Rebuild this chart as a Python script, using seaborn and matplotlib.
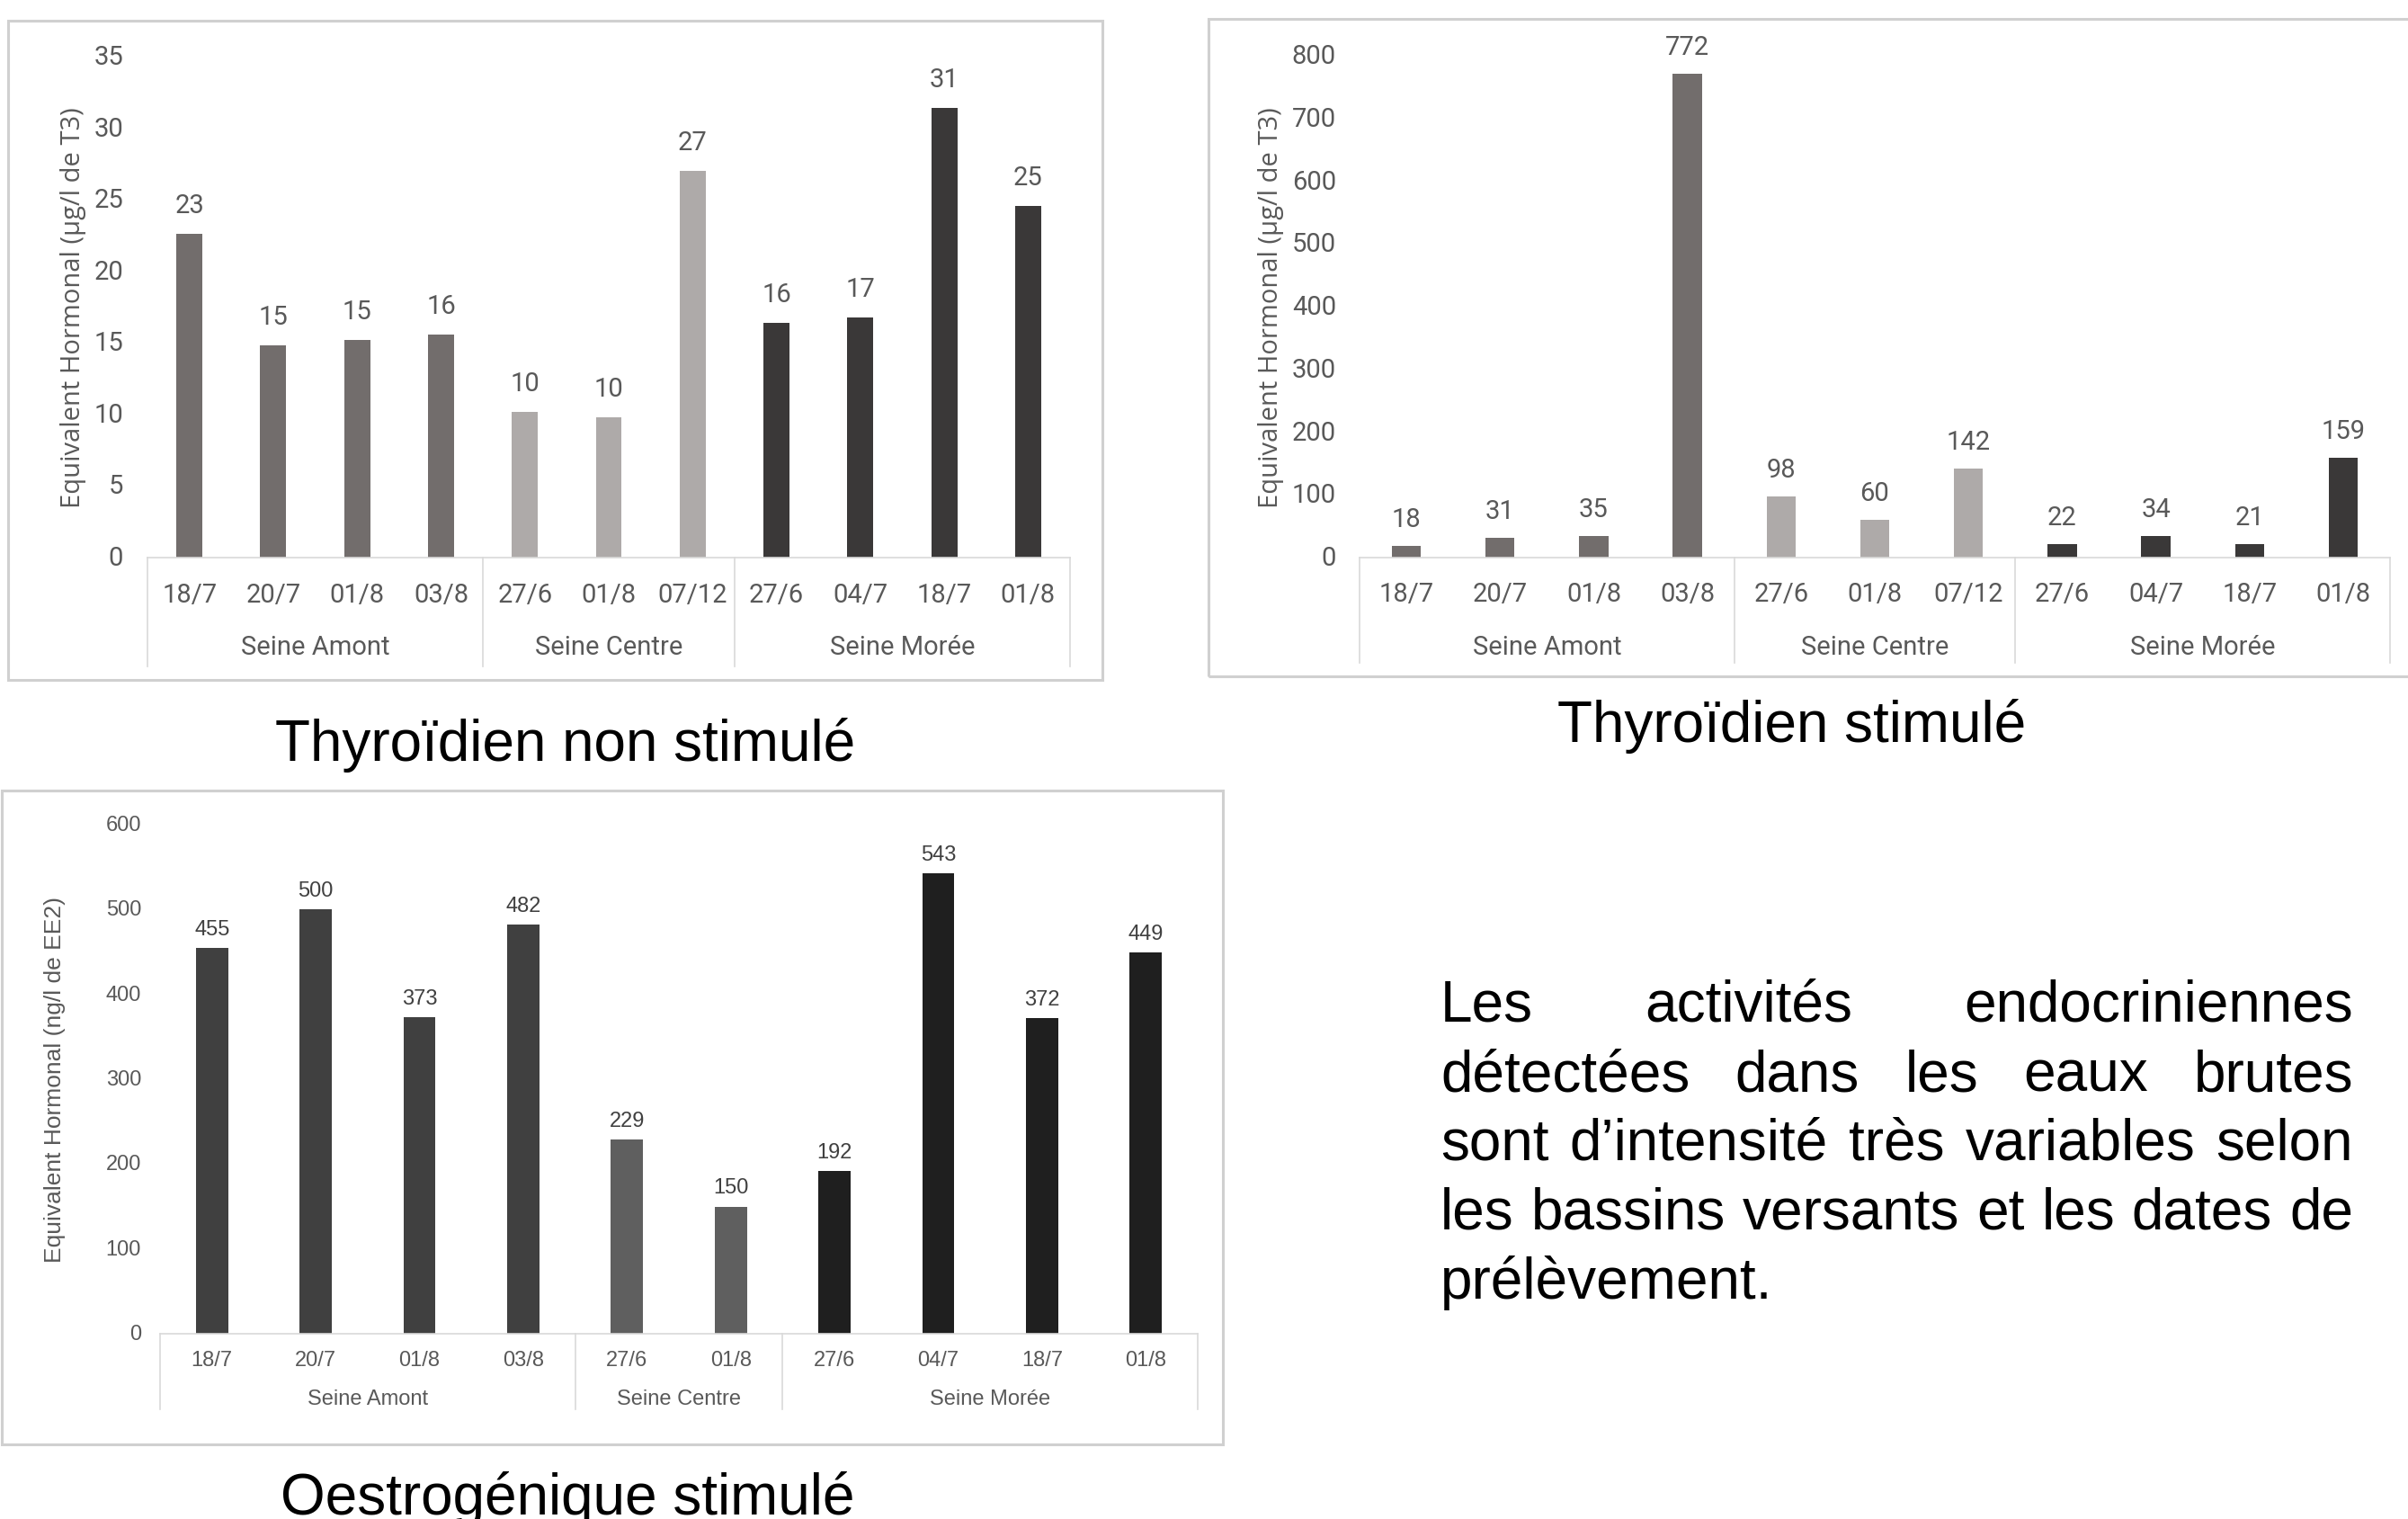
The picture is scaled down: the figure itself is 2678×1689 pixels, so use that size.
import numpy as np
import pandas as pd
import matplotlib
matplotlib.use("Agg")
import matplotlib.pyplot as plt
from matplotlib.patches import Rectangle
import seaborn as sns

W, H = 2678, 1690
DPI = 100

# ---------------- data ----------------
site_order = ["Seine Amont", "Seine Centre", "Seine Morée"]

thyro_sites = ["Seine Amont"] * 4 + ["Seine Centre"] * 3 + ["Seine Morée"] * 4
thyro_dates = ["18/7", "20/7", "01/8", "03/8", "27/6", "01/8", "07/12",
               "27/6", "04/7", "18/7", "01/8"]
thyro_non_stim = [22.6, 14.8, 15.2, 15.6, 10.2, 9.8, 27.0, 16.4, 16.8, 31.4, 24.6]
thyro_stim = [18, 31, 35, 772, 98, 60, 142, 22, 34, 21, 159]

oestro_sites = ["Seine Amont"] * 4 + ["Seine Centre"] * 2 + ["Seine Morée"] * 4
oestro_dates = ["18/7", "20/7", "01/8", "03/8", "27/6", "01/8",
                "27/6", "04/7", "18/7", "01/8"]
oestro_stim = [455, 500, 373, 482, 229, 150, 192, 543, 372, 449]

thyro_palette = ["#726d6c", "#aeaaa9", "#3a3838"]
oestro_palette = ["#404040", "#5f5f5f", "#1f1f1f"]

ylabel_t3 = "Equivalent Hormonal (µg/l de T3)"
ylabel_ee2 = "Equivalent Hormonal (ng/l de EE2)"

titles = ["Thyroïdien non stimulé", "Thyroïdien stimulé", "Oestrogénique stimulé"]

paragraph = [
    "Les activités endocriniennes",
    "détectées dans les eaux brutes",
    "sont d’intensité très variables selon",
    "les bassins versants et les dates de",
    "prélèvement.",
]

# ---------------- helpers ----------------
def fx(x):
    return x / W


def fy(y):
    return 1 - y / H


def pt(px):
    return px * 72 / DPI


GRID = "#d9d9d9"
TXT = "#595959"


def frame(fig, x0, y0, x1, y1):
    fig.add_artist(Rectangle((fx(x0), fy(y1)), (x1 - x0) / W, (y1 - y0) / H,
                             transform=fig.transFigure, fill=False,
                             ec="#d0d0d0", lw=2.2, zorder=0))


def chart(fig, box, dates, sites, values, palette, ymax, ystep, ylabel,
          font, fs, ylab_font, ylab_fs, date_y, group_y, sep_y,
          ytick_gap, ylabel_x, value_pad, value_color, group_bounds):
    left, top, right, bottom = box
    ax = fig.add_axes([fx(left), fy(bottom), (right - left) / W, (bottom - top) / H])
    ax.set_facecolor("none")
    n = len(dates)
    slots = [str(i) for i in range(n)]
    df = pd.DataFrame({"slot": slots, "value": values, "site": sites})
    sns.barplot(data=df, x="slot", y="value", hue="site", order=slots,
                hue_order=site_order, palette=palette, dodge=False, width=0.31,
                saturation=1, errorbar=None, legend=False, ax=ax)
    ax.set_xlim(-0.5, n - 0.5)
    ax.set_ylim(0, ymax)

    for s in ["top", "right", "left"]:
        ax.spines[s].set_visible(False)
    ax.spines["bottom"].set_color(GRID)
    ax.spines["bottom"].set_linewidth(1.2)

    # y axis
    ax.set_yticks(np.arange(0, ymax + 1e-9, ystep))
    ax.set_yticklabels([f"{v:g}" for v in np.arange(0, ymax + 1e-9, ystep)])
    ax.tick_params(axis="y", length=0, pad=pt(ytick_gap), colors=TXT)
    for lab in ax.get_yticklabels():
        lab.set_fontfamily(font)
        lab.set_fontsize(fs)
        lab.set_va("center")

    # x axis: dates
    h_px = bottom - top
    ax.set_xticks(range(n))
    ax.set_xticklabels(dates)
    ax.tick_params(axis="x", length=0, pad=pt(date_y - bottom), colors=TXT)
    for lab in ax.get_xticklabels():
        lab.set_fontfamily(font)
        lab.set_fontsize(fs)
        lab.set_va("center")
    ax.set_xlabel("")

    ax.set_ylabel(ylabel, fontfamily=ylab_font, fontsize=ylab_fs, color=TXT, va="center")
    ax.yaxis.set_label_coords((ylabel_x - left) / (right - left), 0.5)

    # group labels and separators below the category axis
    tr = ax.get_xaxis_transform()
    yf_sep = (bottom - sep_y) / h_px
    yf_grp = (bottom - group_y) / h_px
    for b in group_bounds:
        ax.plot([b, b], [0, yf_sep], transform=tr, color=GRID, lw=1.2, clip_on=False)
    for site, a, b in zip(site_order, group_bounds[:-1], group_bounds[1:]):
        ax.text((a + b) / 2, yf_grp, site, transform=tr, ha="center", va="center",
                fontfamily=font, fontsize=fs, color=TXT)

    # value labels
    for c in ax.containers:
        ax.bar_label(c, fmt="%.0f", padding=pt(value_pad), color=value_color,
                     fontfamily=font, fontsize=fs)
    return ax


fig = plt.figure(figsize=(W / DPI, H / DPI), dpi=DPI, facecolor="white")

# frames around each chart
frame(fig, 9, 24, 1226, 757)
frame(fig, 1344, 22, 2700, 753)
frame(fig, 2, 880, 1360, 1607)

TOP_FONT = ["Roboto", "DejaVu Sans"]
LAB_FONT = ["Open Sans", "DejaVu Sans"]
ARIAL = ["Liberation Sans", "DejaVu Sans"]

chart(fig, (164, 64, 1190, 621), thyro_dates, thyro_sites, thyro_non_stim,
      thyro_palette, 35, 5, ylabel_t3, TOP_FONT, 21, LAB_FONT, 21,
      662, 720, 742, 27, 82, 18, TXT, [-0.5, 3.5, 6.5, 10.5])

chart(fig, (1512, 63, 2658, 621), thyro_dates, thyro_sites, thyro_stim,
      thyro_palette, 800, 100, ylabel_t3, TOP_FONT, 21, LAB_FONT, 21,
      661, 720, 738, 26, 1413, 16, TXT, [-0.5, 3.5, 6.5, 10.5])

chart(fig, (178, 918, 1332, 1484), oestro_dates, oestro_sites, oestro_stim,
      oestro_palette, 600, 100, ylabel_ee2, ARIAL, 17, ARIAL, 19,
      1513, 1556, 1568, 21, 61, 10, "#404040", [-0.5, 3.5, 5.5, 9.5])

# chart captions
TITLE_FS = 46
fig.text(fx(629), fy(846), titles[0], ha="center", va="baseline",
         fontfamily=ARIAL, fontsize=TITLE_FS, color="black")
fig.text(fx(1993), fy(825), titles[1], ha="center", va="baseline",
         fontfamily=ARIAL, fontsize=TITLE_FS, color="black")
fig.text(fx(631), fy(1684), titles[2], ha="center", va="baseline",
         fontfamily=ARIAL, fontsize=TITLE_FS, color="black")

# justified paragraph
para_left, para_right = 1602, 2617
para_base, para_step = 1136, 77
renderer = fig.canvas.get_renderer()
for i, line in enumerate(paragraph):
    ypx = para_base + i * para_step
    if i == len(paragraph) - 1:
        fig.text(fx(para_left), fy(ypx), line, ha="left", va="baseline",
                 fontfamily=ARIAL, fontsize=TITLE_FS, color="black")
        continue
    words = line.split(" ")
    texts = [fig.text(0, fy(ypx), w, ha="left", va="baseline",
                      fontfamily=ARIAL, fontsize=TITLE_FS, color="black")
             for w in words]
    widths = [t.get_window_extent(renderer).width for t in texts]
    gap = (para_right - para_left - sum(widths)) / (len(words) - 1)
    x = para_left
    for t, w in zip(texts, widths):
        t.set_x(fx(x))
        x += w + gap

fig.savefig("out.png", dpi=DPI, facecolor="white")
